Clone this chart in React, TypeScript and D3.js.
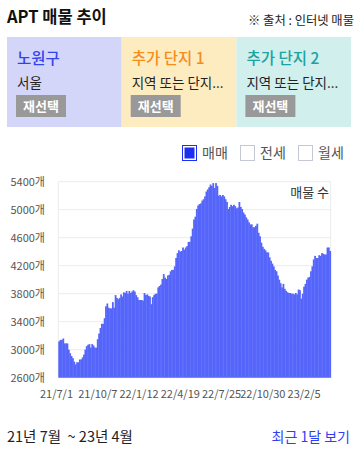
import React from 'react';
import * as d3 from 'd3';

// 매물 수 (3일 간격), 21/7/1 ~ 23/4
const listings: number[] = [
  3120, 3140, 3140, 3160, 3090, 3090, 3090, 3000, 2950, 2910,
  2880, 2830, 2790, 2820, 2820, 2860, 2860, 2890, 2930, 3000,
  3050, 3070, 3080, 3030, 3080, 3060, 3030, 3030, 3150, 3230,
  3310, 3370, 3370, 3450, 3620, 3660, 3600, 3590, 3590, 3680,
  3600, 3780, 3740, 3720, 3740, 3790, 3760, 3820, 3810, 3840,
  3800, 3840, 3810, 3830, 3850, 3830, 3780, 3750, 3710, 3710,
  3710, 3700, 3810, 3780, 3790, 3770, 3760, 3650, 3750, 3780,
  3800, 3800, 3890, 3910, 3930, 4010, 4080, 4030, 4010, 4060,
  4070, 4120, 4140, 4140, 4190, 4310, 4380, 4420, 4400, 4410,
  4460, 4430, 4460, 4480, 4540, 4540, 4620, 4730, 4860, 4900,
  5010, 5060, 5080, 5090, 5130, 5150, 5190, 5260, 5290, 5320,
  5360, 5340, 5380, 5310, 5380, 5340, 5200, 5210, 5190, 5210,
  5190, 5150, 5110, 5010, 5040, 5070, 5050, 5070, 5050, 5020,
  5030, 5110, 5040, 5010, 4960, 4930, 4890, 4860, 4820, 4790,
  4790, 4750, 4750, 4770, 4800, 4670, 4620, 4530, 4470, 4440,
  4420, 4390, 4390, 4320, 4270, 4230, 4190, 4140, 4120, 4060,
  4000, 3950, 3890, 3940, 3870, 3840, 3820, 3810, 3810, 3800,
  3800, 3790, 3810, 3790, 3860, 3850, 3730, 3800, 3900, 3940,
  4000, 4030, 4040, 4120, 4190, 4290, 4340, 4310, 4310, 4350,
  4340, 4380, 4370, 4360, 4360, 4460, 4460, 4410,
];

const xLabels = ['21/7/1', '21/10/7', '22/1/12', '22/4/19', '22/7/25', '22/10/30', '23/2/5'];
const labelEvery = 30;
const yTicks = [2600, 3000, 3400, 3800, 4200, 4600, 5000, 5400];

const cards = [
  { title: '노원구', sub: '서울', bg: '#d4d6f9', color: '#3344ee' },
  { title: '추가 단지 1', sub: '지역 또는 단지...', bg: '#feecc1', color: '#f58d1b' },
  { title: '추가 단지 2', sub: '지역 또는 단지...', bg: '#d1efed', color: '#1ba3a0' },
];
const legendItems = [
  { name: '매매', on: true },
  { name: '전세', on: false },
  { name: '월세', on: false },
];

const W = 360;
const H = 450;
const FONT = '"Noto Sans CJK KR", "Noto Sans", sans-serif';
const BAR = '#5565fa';

const plot = { left: 58.3, right: 330.7, top: 181.7, bottom: 377.7 };

export default function App() {
  const x = d3
    .scaleBand<number>()
    .domain(d3.range(listings.length))
    .range([plot.left, plot.right])
    .padding(0);
  const y = d3.scaleLinear().domain([2600, 5400]).range([plot.bottom, plot.top]);
  const bw = x.bandwidth();

  const cardW = 114.7;

  return (
    <svg
      width={W}
      height={H}
      style={{ position: 'absolute', left: 0, top: 0, background: '#fff' }}
      fontFamily={FONT}
    >
      {/* header */}
      <text x={7} y={23} fontSize={16.5} fontWeight="bold" fill="#111">
        APT 매물 추이
      </text>
      <text x={354} y={25} fontSize={12.3} textAnchor="end" fill="#222">
        ※ 출처 : 인터넷 매물
      </text>

      {/* cards */}
      {cards.map((c, i) => {
        const cx = 7 + i * cardW;
        return (
          <g key={c.title} transform={`translate(${cx},37)`}>
            <rect width={cardW} height={90} fill={c.bg} />
            <text x={10} y={27} fontSize={15.5} fontWeight={500} fill={c.color}>
              {c.title}
            </text>
            <text x={10} y={51} fontSize={13.5} fill="#222">
              {c.sub}
            </text>
            <rect x={9} y={58} width={50} height={22} fill="#999" />
            <text x={34} y={74} fontSize={13} fontWeight="bold" fill="#fff" textAnchor="middle">
              재선택
            </text>
          </g>
        );
      })}

      {/* legend */}
      {legendItems.map((l, i) => {
        const lx = 182 + i * 58;
        return (
          <g key={l.name} transform={`translate(${lx},145)`}>
            {l.on ? (
              <>
                <rect x={0.5} y={0.5} width={14} height={15} fill="#fff" stroke="#1a2ff0" />
                <rect x={2.5} y={2.5} width={10} height={11} fill="#1a2ff0" />
              </>
            ) : (
              <rect x={0.5} y={0.5} width={14} height={15} fill="#fff" stroke="#c4c8d4" />
            )}
            <text x={20} y={13} fontSize={14} fill="#555">
              {l.name}
            </text>
          </g>
        );
      })}

      {/* grid */}
      {yTicks.map((t) => (
        <line key={t} x1={plot.left} x2={plot.right} y1={y(t)} y2={y(t)} stroke="#ececec" />
      ))}
      <line x1={plot.left} x2={plot.left} y1={plot.top} y2={plot.bottom} stroke="#ececec" />
      <line x1={plot.right} x2={plot.right} y1={plot.top} y2={plot.bottom} stroke="#ececec" />

      {/* bars */}
      {listings.map((v, i) => (
        <rect
          key={i}
          x={x(i)!}
          y={y(v)}
          width={bw + 0.4}
          height={plot.bottom - y(v)}
          fill={BAR}
        />
      ))}

      <text x={329} y={197} fontSize={13} textAnchor="end" fill="#333">
        매물 수
      </text>

      {/* y axis */}
      {yTicks.map((t) => (
        <text key={t} x={45} y={y(t) + 4} fontSize={11} textAnchor="end" fill="#555">
          {`${t}개`}
        </text>
      ))}

      {/* x axis */}
      {xLabels.map((lab, i) => (
        <text
          key={lab}
          x={x(i * labelEvery)! + bw / 2 - 2.5}
          y={398}
          fontSize={11}
          textAnchor="middle"
          fill="#555"
        >
          {lab}
        </text>
      ))}

      {/* footer */}
      <text x={7} y={442} fontSize={14.5} fill="#222" style={{ whiteSpace: 'pre' }}>
        {'21년 7월  ~ 23년 4월'}
      </text>
      <text x={350} y={442} fontSize={14} textAnchor="end" fill="#2e3ff5">
        최근 1달 보기
      </text>
    </svg>
  );
}
